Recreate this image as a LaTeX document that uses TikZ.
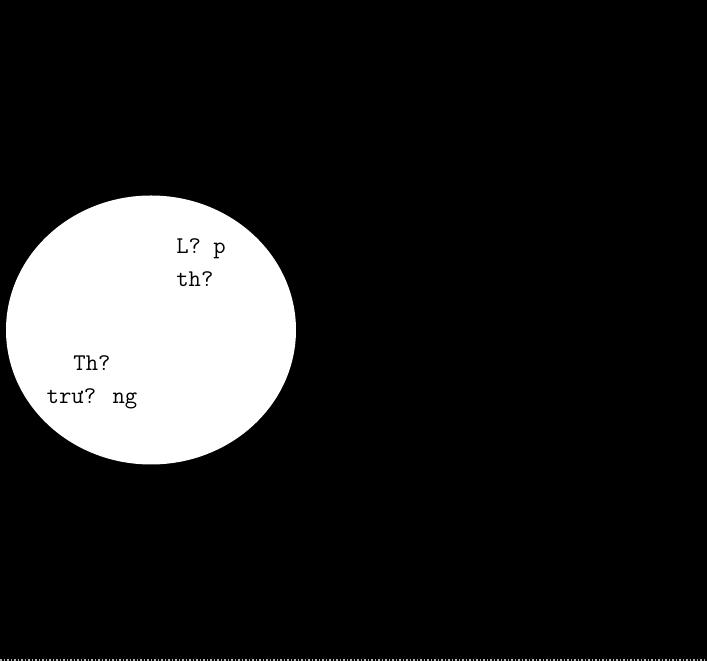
\documentclass[tikz,border=0pt]{standalone}
\usepackage{fontspec}
\usetikzlibrary{shapes.geometric}

\begin{document}
\begin{tikzpicture}[
  x=1pt,y=1pt,
  disc/.style={ellipse,fill=white,draw=none,minimum width=290pt,minimum height=269pt,inner sep=0pt},
  lbl/.style={font=\ttfamily\fontsize{24}{33}\selectfont,inner sep=0pt}
]
  \fill[black] (0,0) rectangle (707,661);
  \useasboundingbox (0,0) rectangle (707,661);
  \draw[gray!60,line width=1.5pt,dotted] (0,1) -- (707,1);

  \node[disc] (set) at (151,331) {};
  \node[lbl,align=left]   (lop)   at (201,398) {L? p\\th?};
  \node[lbl,align=center] (truong) at (92,279) {Th?\\trư? ng};
\end{tikzpicture}
\end{document}
